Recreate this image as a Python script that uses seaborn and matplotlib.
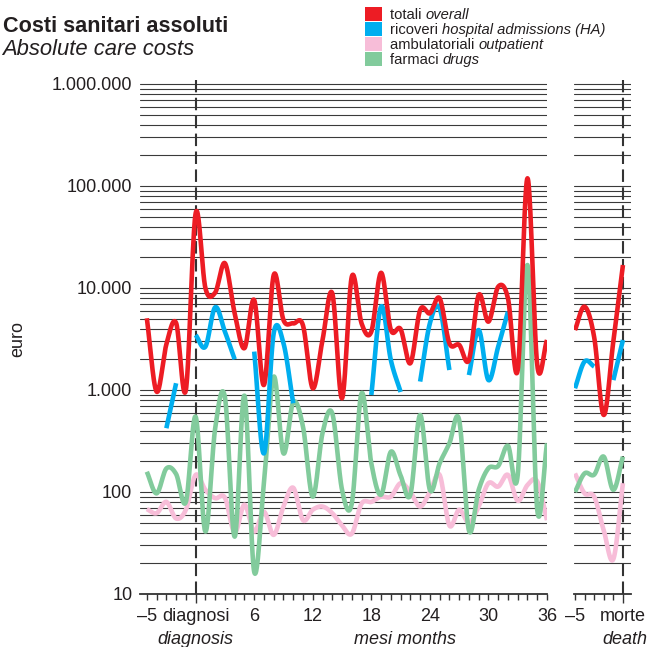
import numpy as np
import pandas as pd
import matplotlib
matplotlib.use("Agg")
import matplotlib.pyplot as plt
import seaborn as sns
from matplotlib.ticker import LogLocator, FuncFormatter, MultipleLocator, NullFormatter
from matplotlib.patches import Rectangle

# ---------------- data ----------------
months_left = list(range(-5, 37))
months_right = list(range(-5, 1))
nan = np.nan

totali_left = [5050, 964, 2800, 4540, 1000, 54000, 10000, 9000, 17500, 5650,
               2570, 7620, 1120, 13400, 4850, 4500, 4300, 1040, 3090, 8870,
               830, 12900, 4500, 3730, 14100, 3890, 3950, 1830, 6080, 5650,
               7920, 2870, 2770, 1970, 8540, 4680, 10300, 7920, 1570, 119000,
               1760, 3090]
ricoveri_left = [nan, nan, 422, 1165, nan, 3460, 2660, 6470, 3730, 2000,
                 nan, 2380, 239, 3600, 2870, 741, nan, nan, nan, nan,
                 nan, nan, nan, 893, 6560, 1970, 956, nan, 1210, 4500,
                 6330, 1570, nan, 1400, 3870, 1250, 2660, 5860, nan, nan,
                 nan, nan]
ambulatoriali_left = [68, 62, 80, 55, 67, 147, 105, 87, 88, 40,
                      75, 41, 64, 38, 72, 110, 53, 67, 72, 62,
                      47, 39, 77, 80, 90, 90, 122, 100, 72, 100,
                      147, 47, 67, 50, 72, 122, 113, 147, 82, 117,
                      127, 53]
farmaci_left = [158, 97, 170, 150, 80, 547, 41, 420, 850, 36.5,
                880, 16.5, 123, 1350, 239, 760, 437, 90, 378, 590,
                105, 77, 927, 191, 94, 248, 145, 94, 569, 105,
                191, 300, 508, 42, 105, 171, 180, 284, 147, 16800,
                67, 300]

totali_right = [3870, 6560, 3300, 569, 3000, 16800]
ricoveri_right = [1040, 1900, 1700, nan, 1250, 3090]
ambulatoriali_right = [152, 97, 90, 42, 22, 122]
farmaci_right = [100, 152, 148, 222, 105, 222]

left_ticks = [-5, 0, 6, 12, 18, 24, 30, 36]
left_ticklabels = ["\u20135", "diagnosi", "6", "12", "18", "24", "30", "36"]
right_ticks = [-5, 0]
right_ticklabels = ["\u20135", "morte"]
y_ticks = [10, 100, 1000, 10000, 100000, 1000000]

series_names = ["totali", "ricoveri", "ambulatoriali", "farmaci"]
legend_it = ["totali ", "ricoveri ", "ambulatoriali ", "farmaci "]
legend_en = ["overall", "hospital admissions (HA)", "outpatient", "drugs"]
colors = {"totali": "#ED1C24", "ricoveri": "#00AEEF",
          "ambulatoriali": "#F7BDD8", "farmaci": "#82CB9C"}

# ---------------- styling ----------------
sns.set_theme(style="white")
plt.rcParams["font.family"] = ["Liberation Sans", "DejaVu Sans"]
TXT = "#231F20"


def smooth_segments(x, y, n=24):
    """Catmull-Rom curve through the read points (in log space) for each
    contiguous run of values; returns list of (xs, ys)."""
    x = np.asarray(x, float)
    y = np.asarray(y, float)
    ok = ~np.isnan(y)
    segs = []
    i = 0
    while i < len(x):
        if not ok[i]:
            i += 1
            continue
        j = i
        while j + 1 < len(x) and ok[j + 1]:
            j += 1
        xs_, ls_ = x[i:j + 1], np.log10(y[i:j + 1])
        if len(xs_) == 1:
            segs.append((xs_, 10 ** ls_))
        else:
            m = np.zeros_like(ls_)
            m[1:-1] = (ls_[2:] - ls_[:-2]) / 2.0
            m[0] = ls_[1] - ls_[0]
            m[-1] = ls_[-1] - ls_[-2]
            if len(xs_) == 2:
                m[:] = ls_[1] - ls_[0]
            px, py = [], []
            for k in range(len(xs_) - 1):
                t = np.linspace(0, 1, n, endpoint=(k == len(xs_) - 2))
                h00 = 2 * t**3 - 3 * t**2 + 1
                h10 = t**3 - 2 * t**2 + t
                h01 = -2 * t**3 + 3 * t**2
                h11 = t**3 - t**2
                px.append(xs_[k] + t * (xs_[k + 1] - xs_[k]))
                py.append(h00 * ls_[k] + h10 * m[k] + h01 * ls_[k + 1] + h11 * m[k + 1])
            segs.append((np.concatenate(px), 10 ** np.concatenate(py)))
        i = j + 1
    return segs


W, H = 651, 647
fig = plt.figure(figsize=(W / 100, H / 100), dpi=100)
fig.patch.set_facecolor("white")

y_bot, y_top = 594, 80
ylim = (10, 10 ** (6 + (84 - y_top) / 102))
axL = fig.add_axes([140 / W, 1 - y_bot / H, 407 / W, (y_bot - y_top) / H])
axR = fig.add_axes([574 / W, 1 - y_bot / H, 57 / W, (y_bot - y_top) / H])

panels = [
    (axL, months_left, {"totali": totali_left, "ricoveri": ricoveri_left,
                        "ambulatoriali": ambulatoriali_left, "farmaci": farmaci_left},
     (-5.7, 36)),
    (axR, months_right, {"totali": totali_right, "ricoveri": ricoveri_right,
                         "ambulatoriali": ambulatoriali_right, "farmaci": farmaci_right},
     (-5.1, 0.84)),
]

draw_order = ["ambulatoriali", "farmaci", "ricoveri", "totali"]

for ax, months, data, xl in panels:
    ax.set_yscale("log")
    ax.set_ylim(*ylim)
    ax.set_xlim(*xl)
    ax.yaxis.set_major_locator(LogLocator(base=10))
    ax.yaxis.set_minor_locator(LogLocator(base=10, subs=np.arange(2, 10)))
    ax.yaxis.set_minor_formatter(NullFormatter())
    ax.grid(False)
    ax.grid(True, which="both", axis="y", color="#3A3A3A", lw=0.8)
    ax.set_axisbelow(True)
    for s in ["left", "top", "right"]:
        ax.spines[s].set_visible(False)
    ax.spines["bottom"].set_color("#333333")
    ax.spines["bottom"].set_linewidth(1.3)
    ax.axvline(0, color="#333333", lw=1.5, ls=(0, (6, 2.6)), zorder=1.5)
    for name in draw_order:
        for k, (sx, sy) in enumerate(smooth_segments(months, data[name])):
            df = pd.DataFrame({"mese": sx, "euro": sy})
            sns.lineplot(data=df, x="mese", y="euro", ax=ax, color=colors[name],
                         lw=3.3, sort=False, estimator=None, zorder=3,
                         solid_capstyle="butt")
    ax.set_xlabel("")
    ax.set_ylabel("")
    ax.xaxis.set_minor_locator(MultipleLocator(1))
    ax.tick_params(axis="x", which="both", direction="out", length=4.2, width=1.0,
                   color="#333333", bottom=True, labelsize=13, labelcolor=TXT, pad=6)
    ax.tick_params(axis="y", which="both", length=0, left=False)

# left axis ticks / labels
axL.set_xticks(left_ticks)
axL.set_xticklabels(left_ticklabels)
axL.set_yticks(y_ticks)
axL.yaxis.set_major_formatter(FuncFormatter(lambda v, p: f"{int(round(v)):,}".replace(",", ".")))
axL.tick_params(axis="y", which="major", labelsize=13, labelcolor=TXT, pad=5.5)
axR.set_xticks(right_ticks)
axR.set_xticklabels(right_ticklabels)
axR.set_yticks(y_ticks)
axR.tick_params(axis="y", labelleft=False)

for ax in (axL, axR):
    for tk in ax.xaxis.get_major_ticks():
        if abs(tk.get_loc()) < 1e-9:
            tk.tick1line.set_markersize(6.5)

# second line of x labels (italic)
for ax, xpos, txt in [(axL, 0, "diagnosis"), (axL, 21.4, "mesi months"), (axR, 0.25, "death")]:
    ax.annotate(txt, xy=(xpos, 0), xycoords=("data", "axes fraction"),
                xytext=(0, -36), textcoords="offset points", ha="center",
                va="baseline", style="italic", fontsize=13, color=TXT,
                annotation_clip=False)

# y label
fig.text(17.5 / W, 1 - 339 / H, "euro", rotation=90, ha="center", va="center",
         fontsize=13, color=TXT)

# titles
fig.text(3 / W, 1 - 31.5 / H, "Costi sanitari assoluti", fontsize=15.6,
         fontweight="bold", color=TXT, va="baseline", ha="left")
fig.text(2 / W, 1 - 55 / H, "Absolute care costs", fontsize=15.8,
         style="italic", color=TXT, va="baseline", ha="left")

# legend (colour squares + Italian label + italic English label)
renderer = fig.canvas.get_renderer()
for i, name in enumerate(series_names):
    top = 7.3 + 15 * i
    fig.add_artist(Rectangle((365 / W, 1 - (top + 13.4) / H), 16.7 / W, 13.4 / H,
                             transform=fig.transFigure, facecolor=colors[name],
                             edgecolor="none"))
    t1 = fig.text(390 / W, 1 - (top + 11.4) / H, legend_it[i], fontsize=10.6,
                  color=TXT, va="baseline", ha="left")
    bb = t1.get_window_extent(renderer=renderer)
    fig.text(bb.x1 / W, 1 - (top + 11.4) / H, legend_en[i], fontsize=10.6,
             color=TXT, va="baseline", ha="left", style="italic")

fig.savefig("out.png", dpi=100, facecolor="white")
